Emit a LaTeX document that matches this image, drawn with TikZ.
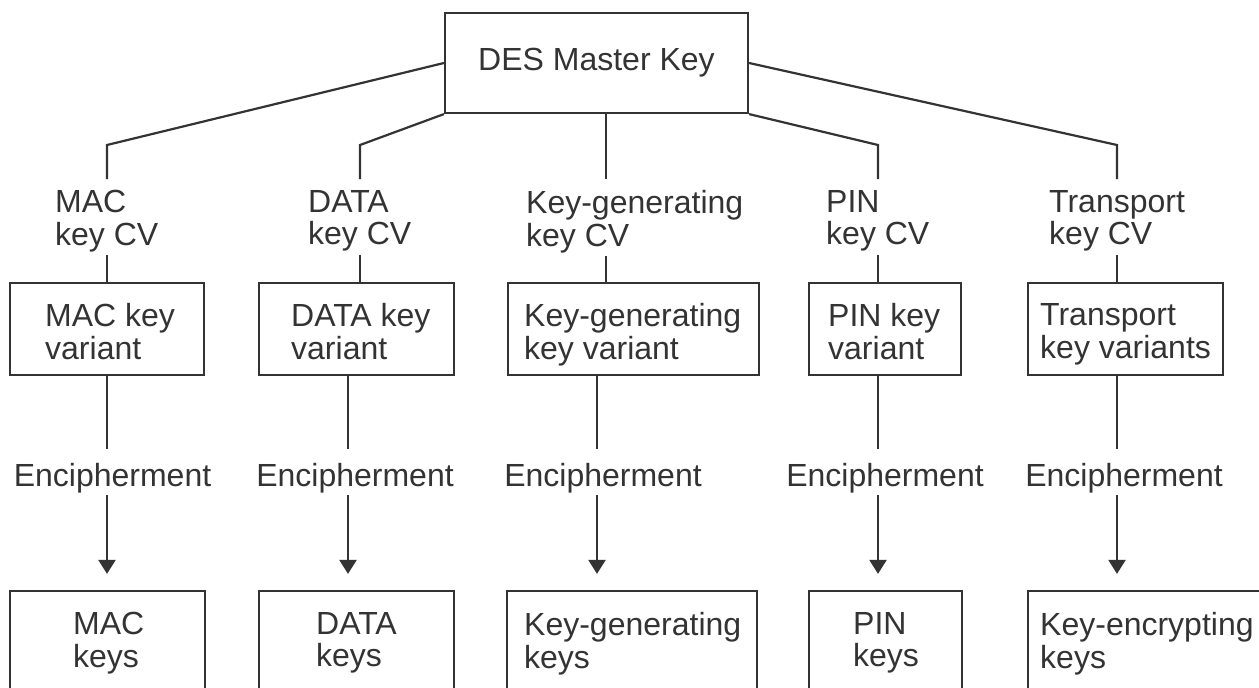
\documentclass[tikz,border=0pt]{standalone}
\usepackage{fontspec}
\setmainfont{Liberation Sans}
\usetikzlibrary{arrows.meta}
\newcommand{\twoln}[2]{\begin{tabular}{@{}l@{}}#1\\#2\end{tabular}}
\definecolor{ink}{HTML}{333333}
\begin{document}
\begin{tikzpicture}[x=1pt,y=-1pt,
  every node/.style={font=\fontsize{32}{31.5}\selectfont, text=ink},
  conn/.style={draw=ink, line width=2.2pt},
  box/.style={draw=ink, line width=2.2pt, rectangle, inner sep=0pt},
  txt/.style={inner sep=0pt, anchor=north west},
  enc/.style={inner xsep=0pt, inner ysep=0pt, text height=37pt, text depth=9pt, anchor=base},
  arr/.style={conn, -{Triangle[length=14pt,width=17pt]}, shorten >=16pt}
]
\useasboundingbox (0,0) rectangle (1259,688);
\clip (0,0) rectangle (1259,688);

% top
\node[box, minimum width=303pt, minimum height=100pt] (top) at (596.5,63) {DES Master Key};

% corners of branches
\coordinate (k1) at (107,145);
\coordinate (k2) at (360,145);
\coordinate (k3) at (606,145);
\coordinate (k4) at (878,145);
\coordinate (k5) at (1117,145);

% CV labels
\node[txt] (cv1) at (55,190)   {\twoln{MAC}{key CV}};
\node[txt] (cv2) at (308,190)  {\twoln{DATA}{key CV}};
\node[txt] (cv3) at (526,190)  {\twoln{Key-generating}{key CV}};
\node[txt] (cv4) at (826,190)  {\twoln{PIN}{key CV}};
\node[txt] (cv5) at (1049,190) {\twoln{Transport}{key CV}};

% variant boxes
\node[box, minimum width=194pt, minimum height=92pt] (v1) at (107,329) {};
\node[box, minimum width=195pt, minimum height=92pt] (v2) at (356.5,329) {};
\node[box, minimum width=251pt, minimum height=92pt] (v3) at (633.5,329) {};
\node[box, minimum width=152pt, minimum height=92pt] (v4) at (885,329) {};
\node[box, minimum width=195pt, minimum height=92pt] (v5) at (1125.5,329) {};

\node[txt] (vt1) at (45,303.5)   {\twoln{MAC key}{variant}};
\node[txt] (vt2) at (291,303.5)  {\twoln{DATA key}{variant}};
\node[txt] (vt3) at (524,303.5)  {\twoln{Key-generating}{key variant}};
\node[txt] (vt4) at (828,303.5)  {\twoln{PIN key}{variant}};
\node[txt] (vt5) at (1040,303.5) {\twoln{Transport}{key variants}};

% encipherment labels
\node[enc] (e1) at (112.5,486) {Encipherment};
\node[enc] (e2) at (355,486)   {Encipherment};
\node[enc] (e3) at (603,486)   {Encipherment};
\node[enc] (e4) at (885,486)   {Encipherment};
\node[enc] (e5) at (1124,486)  {Encipherment};

% bottom boxes
\node[box, minimum width=195pt, minimum height=120pt] (b1) at (107.5,651) {};
\node[box, minimum width=195pt, minimum height=120pt] (b2) at (356.5,651) {};
\node[box, minimum width=250pt, minimum height=120pt] (b3) at (632,651) {};
\node[box, minimum width=153pt, minimum height=120pt] (b4) at (885.5,651) {};
\node[box, minimum width=252pt, minimum height=120pt] (b5) at (1154,651) {};

\node[txt] (bt1) at (73,612)   {\twoln{MAC}{keys}};
\node[txt] (bt2) at (316,612)  {\twoln{DATA}{keys}};
\node[txt] (bt3) at (524,612)  {\twoln{Key-generating}{keys}};
\node[txt] (bt4) at (853,612)  {\twoln{PIN}{keys}};
\node[txt] (bt5) at (1040,612) {\twoln{Key-encrypting}{keys}};

% branches from master key
\draw[conn, shorten >=11pt] (top.west) -- (k1) -- (k1 |- cv1.north);
\draw[conn, shorten >=11pt] (top.south west) -- (k2) -- (k2 |- cv2.north);
\draw[conn, shorten >=11pt] (k3 |- top.south) -- (k3 |- cv3.north);
\draw[conn, shorten >=11pt] (top.south east) -- (k4) -- (k4 |- cv4.north);
\draw[conn, shorten >=11pt] (top.east) -- (k5) -- (k5 |- cv5.north);

% CV label to variant box
\draw[conn] (k1 |- cv1.south) -- (k1 |- v1.north);
\draw[conn] (k2 |- cv2.south) -- (k2 |- v2.north);
\draw[conn] (k3 |- cv3.south) -- (k3 |- v3.north);
\draw[conn] (k4 |- cv4.south) -- (k4 |- v4.north);
\draw[conn] (k5 |- cv5.south) -- (k5 |- v5.north);

% variant to encipherment
\coordinate (l1) at (107,0);
\coordinate (l2) at (348,0);
\coordinate (l3) at (597,0);
\coordinate (l4) at (878,0);
\coordinate (l5) at (1117,0);
\draw[conn] (l1 |- v1.south) -- (l1 |- e1.north);
\draw[conn] (l2 |- v2.south) -- (l2 |- e2.north);
\draw[conn] (l3 |- v3.south) -- (l3 |- e3.north);
\draw[conn] (l4 |- v4.south) -- (l4 |- e4.north);
\draw[conn] (l5 |- v5.south) -- (l5 |- e5.north);

% encipherment to keys
\draw[arr] (l1 |- e1.south) -- (l1 |- b1.north);
\draw[arr] (l2 |- e2.south) -- (l2 |- b2.north);
\draw[arr] (l3 |- e3.south) -- (l3 |- b3.north);
\draw[arr] (l4 |- e4.south) -- (l4 |- b4.north);
\draw[arr] (l5 |- e5.south) -- (l5 |- b5.north);
\end{tikzpicture}
\end{document}
